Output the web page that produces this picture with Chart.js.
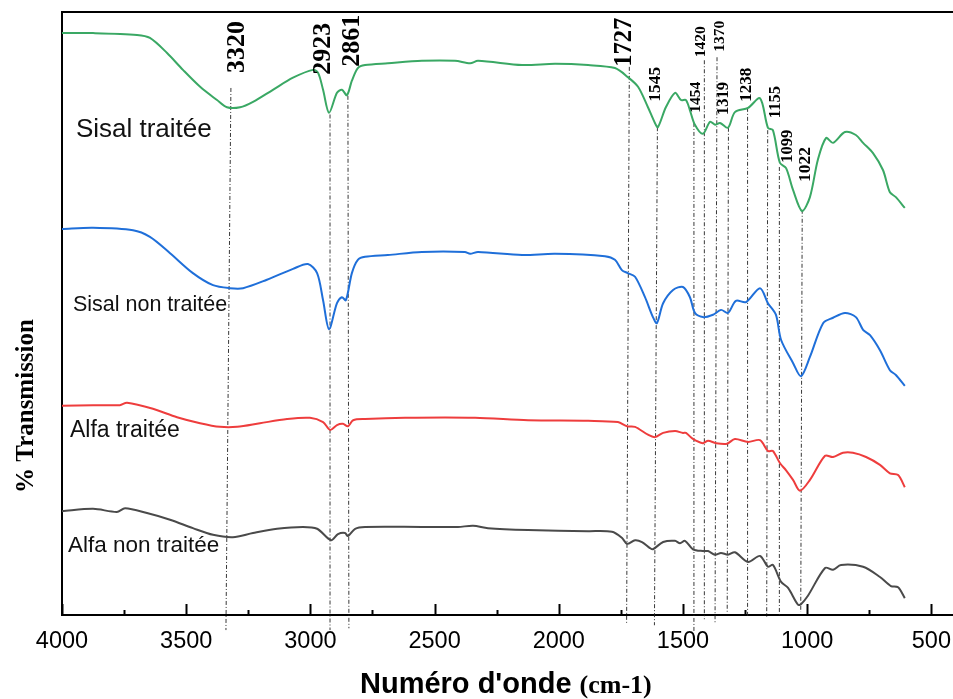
<!DOCTYPE html>
<html>
<head>
<meta charset="utf-8">
<title>FTIR Sisal / Alfa</title>
<script src="https://cdn.jsdelivr.net/npm/chart.js@4/dist/chart.umd.min.js"></script>
<style>
  html, body { margin: 0; padding: 0; background: #fff; }
</style>
</head>
<body>
<canvas id="ftirChart" width="953" height="699"></canvas>
<script>
// wavenumbers (cm-1) and transmission values
const sisalTraiteeWn = [4000,3875,3698,3646,3577,3513,3444,3376,3336,3283,3231,3151,3070,2990,2969,2949,2925,2893,2873,2853,2833,2809,2780,2688,2551,2418,2357,2325,2148,2015,1882,1774,1722,1681,1641,1613,1601,1569,1532,1508,1488,1472,1452,1420,1391,1371,1351,1319,1291,1238,1190,1158,1138,1110,1085,1057,1021,989,957,924,896,848,804,775,735,695,667,643,607];
const sisalTraiteeT = [96.5,96.5,96.2,95.7,93.2,90.4,87.6,85.4,84.2,84.2,85.1,87.1,89.1,90.4,89.9,87.1,83.3,86.6,87.1,86.2,88.6,90.7,91.2,91.5,91.9,91.9,91.5,91.9,91.2,91.4,91.2,90.7,89.2,87.6,84.2,81.6,80.9,84.2,86.6,85.4,85.4,83.7,81.3,79.8,81.8,81.3,81.6,80.8,83.4,84.1,85.7,80.8,80.4,75.0,74.1,70.5,67.0,69.3,75.5,79.1,78.3,80.1,79.6,78.3,76.6,73.8,70.1,69.3,67.5];

const sisalNonTraiteeWn = [4000,3875,3714,3646,3565,3473,3392,3324,3271,3175,3070,3010,2973,2949,2925,2893,2873,2857,2833,2809,2780,2688,2551,2378,2357,2325,2148,2015,1814,1774,1746,1722,1693,1653,1621,1605,1580,1540,1500,1472,1452,1420,1379,1347,1319,1287,1246,1190,1158,1126,1105,1057,1025,989,936,896,848,804,775,747,707,667,643,607];
const sisalNonTraiteeT = [64.0,64.2,63.8,62.7,60.0,56.7,54.7,54.2,54.2,55.6,57.4,58.2,56.7,52.2,47.4,51.7,52.7,52.2,56.7,58.9,59.4,59.7,60.2,60.2,59.9,60.2,59.7,59.9,59.5,58.9,57.2,56.7,56.1,52.7,49.4,48.4,51.7,53.9,54.4,52.7,50.1,49.4,49.8,50.6,50.1,52.1,51.9,54.2,51.7,49.8,45.6,41.8,39.6,42.8,48.4,49.3,50.1,49.4,47.3,46.4,43.9,40.6,39.8,38.0];

const alfaTraiteeWn = [4000,3875,3767,3738,3634,3537,3444,3364,3295,3203,3094,3002,2949,2921,2893,2869,2849,2828,2780,2619,2337,2124,1882,1762,1725,1693,1641,1613,1580,1532,1500,1488,1460,1420,1399,1367,1323,1291,1238,1190,1158,1138,1110,1085,1057,1029,989,928,896,856,816,763,707,667,634,607];
const alfaTraiteeT = [34.7,34.8,34.8,35.2,34.2,32.8,31.8,31.2,31.2,31.8,32.5,32.7,32.0,30.7,31.5,31.7,31.3,32.3,32.5,32.7,32.7,32.3,32.2,32.0,31.3,31.2,29.9,29.5,30.2,30.5,30.2,30.2,29.2,28.5,28.9,28.5,28.4,29.2,28.7,29.0,27.2,27.2,25.2,24.0,22.4,20.6,22.4,26.4,26.2,26.9,26.9,26.2,24.9,23.5,23.2,21.2];

const alfaNonTraiteeWn = [4000,3875,3779,3746,3658,3565,3473,3392,3312,3231,3134,3030,2973,2917,2889,2861,2849,2820,2780,2551,2406,2345,2285,2124,1882,1786,1746,1725,1693,1665,1633,1621,1580,1532,1512,1492,1460,1420,1399,1371,1347,1319,1291,1238,1190,1158,1138,1105,1077,1037,1025,997,928,896,864,775,707,663,634,607];
const alfaNonTraiteeT = [17.2,17.6,17.1,17.7,16.9,15.8,14.4,13.3,12.9,13.6,14.3,14.6,14.3,12.4,13.4,13.6,13.1,14.3,14.6,14.6,14.6,14.8,14.4,14.1,13.9,13.8,12.8,11.8,12.4,12.1,11.1,10.9,12.1,12.3,11.9,12.3,10.9,10.6,10.6,10.0,10.3,10.0,10.4,8.8,9.8,8.0,8.3,5.5,4.5,1.7,1.8,3.2,7.8,7.5,8.3,8.0,6.3,4.8,4.6,2.8];

const seriesNames = ['Sisal traitée', 'Sisal non traitée', 'Alfa traitée', 'Alfa non traitée'];

// x axis ticks (major every 500, minor every 250)
const tickValues = [4000,3750,3500,3250,3000,2750,2500,2250,2000,1750,1500,1250,1000,750,500];

// band assignments marked with dotted lines
const peakLabels = ['3320','2923','2861','1727','1545','1454','1420','1370','1319','1238','1155','1099','1022'];
const peakTopWn = [3320,2921,2849,1716,1603,1456,1414,1363,1317,1240,1159,1112,1020];
const peakBottomWn = [3340,2921,2845,1727,1615,1456,1414,1371,1322,1240,1163,1112,1026];
const peakTopT = [87.4,83.0,86.1,90.9,80.9,81.6,92.0,92.5,80.8,84.1,80.4,74.3,67.2];
const peakBottomT = [-2.5,-2.5,-2.2,-1.3,-1.7,-3.0,-0.7,-1.3,0.5,-0.3,-0.3,0,0.5];
const peakTextWn = [3295,2949,2833,1733,1609,1448,1428,1351,1335,1242,1126,1077,1005];
const peakTextT = [89.9,89.6,90.9,90.9,85.1,83.3,92.5,93.4,82.9,85.1,82.4,75.0,71.8];
const peakTextSize = [26,26,26,24.5,17.5,15.5,15.5,15.5,16.5,17,16.5,16.5,17.5];

// where the curve names sit
const nameWn = [3944,3956,3968,3976];
const nameT = [79.3,50.4,29.5,10.4];
const nameSize = [26,21.5,23,22.5];

const colors = ['#3aa864', '#1f6fd9', '#ee3d3d', '#4a4a4a'];

function toPoints(wn, t) {
    return wn.map((w, i) => ({ x: w, y: t[i] }));
}

const overlayPlugin = {
    id: 'overlay',
    beforeDatasetsDraw(chart) {
        const { ctx, scales: { x, y } } = chart;
        ctx.save();
        ctx.strokeStyle = '#222';
        ctx.lineWidth = 0.9;
        ctx.setLineDash([4, 2, 1, 2]);
        peakLabels.forEach((lbl, i) => {
            ctx.beginPath();
            ctx.moveTo(x.getPixelForValue(peakTopWn[i]), y.getPixelForValue(peakTopT[i]));
            ctx.lineTo(x.getPixelForValue(peakBottomWn[i]), y.getPixelForValue(peakBottomT[i]));
            ctx.stroke();
        });
        ctx.restore();
    },
    afterDraw(chart) {
        const { ctx, chartArea, scales: { x, y } } = chart;
        ctx.save();

        // top frame line
        ctx.strokeStyle = '#000';
        ctx.lineWidth = 2;
        ctx.beginPath();
        ctx.moveTo(chartArea.left - 1, chartArea.top);
        ctx.lineTo(chartArea.right, chartArea.top);
        ctx.stroke();

        // inward tick marks
        tickValues.forEach(v => {
            const px = Math.round(x.getPixelForValue(v)) + 0.5;
            const len = v % 500 === 0 ? 11 : 5;
            ctx.beginPath();
            ctx.moveTo(px, chartArea.bottom);
            ctx.lineTo(px, chartArea.bottom - len);
            ctx.stroke();
        });

        // peak numbers, rotated
        ctx.fillStyle = '#000';
        ctx.textAlign = 'left';
        ctx.textBaseline = 'middle';
        peakLabels.forEach((lbl, i) => {
            ctx.save();
            ctx.translate(x.getPixelForValue(peakTextWn[i]), y.getPixelForValue(peakTextT[i]));
            ctx.rotate(-Math.PI / 2);
            ctx.font = 'bold ' + peakTextSize[i] + 'px "Liberation Serif", "Times New Roman", serif';
            ctx.fillText(lbl, 0, 0);
            ctx.restore();
        });

        // curve names
        ctx.textBaseline = 'alphabetic';
        ctx.fillStyle = '#111';
        seriesNames.forEach((name, i) => {
            ctx.font = nameSize[i] + 'px "Liberation Sans", Arial, sans-serif';
            ctx.fillText(name, x.getPixelForValue(nameWn[i]), y.getPixelForValue(nameT[i]));
        });

        // axis titles
        ctx.fillStyle = '#000';
        ctx.font = 'bold 29px "Liberation Sans", Arial, sans-serif';
        const part1 = "Numéro d'onde ";
        ctx.fillText(part1, 360, 693);
        const w1 = ctx.measureText(part1).width;
        ctx.font = 'bold 26px "Liberation Serif", "Times New Roman", serif';
        ctx.fillText('(cm-1)', 360 + w1, 693);

        ctx.save();
        ctx.translate(33, 406);
        ctx.rotate(-Math.PI / 2);
        ctx.textAlign = 'center';
        ctx.font = 'bold 25px "Liberation Serif", "Times New Roman", serif';
        ctx.fillText('% Transmission', 0, 0);
        ctx.restore();

        ctx.restore();
    }
};

const datasets = [
    toPoints(sisalTraiteeWn, sisalTraiteeT),
    toPoints(sisalNonTraiteeWn, sisalNonTraiteeT),
    toPoints(alfaTraiteeWn, alfaTraiteeT),
    toPoints(alfaNonTraiteeWn, alfaNonTraiteeT)
].map((pts, i) => ({
    label: seriesNames[i],
    data: pts,
    borderColor: colors[i],
    borderWidth: 2,
    pointRadius: 0,
    tension: 0.3,
    fill: false
}));

new Chart(document.getElementById('ftirChart'), {
    type: 'line',
    data: { datasets: datasets },
    options: {
        responsive: false,
        animation: false,
        layout: { padding: { top: 12, right: 0, bottom: 0, left: 0 } },
        plugins: {
            legend: { display: false },
            tooltip: { enabled: false }
        },
        scales: {
            x: {
                type: 'linear',
                reverse: true,
                min: 413,
                max: 4000,
                afterBuildTicks: scale => {
                    scale.ticks = tickValues.map(v => ({ value: v }));
                },
                afterFit: scale => {
                    scale.height = 84;
                    scale.paddingLeft = 0;
                    scale.paddingRight = 0;
                },
                grid: { display: true, drawOnChartArea: false, drawTicks: false },
                border: { display: true, color: '#000', width: 2 },
                ticks: {
                    autoSkip: false,
                    maxRotation: 0,
                    padding: 12,
                    color: '#000',
                    font: { family: '"Liberation Sans", Arial, sans-serif', size: 23.5 },
                    callback: value => (value % 500 === 0 ? String(value) : '')
                }
            },
            y: {
                min: 0,
                max: 100,
                afterFit: scale => { scale.width = 62; },
                grid: { display: true, drawOnChartArea: false, drawTicks: false },
                border: { display: true, color: '#000', width: 2 },
                ticks: { display: false }
            }
        }
    },
    plugins: [overlayPlugin]
});
</script>
</body>
</html>
